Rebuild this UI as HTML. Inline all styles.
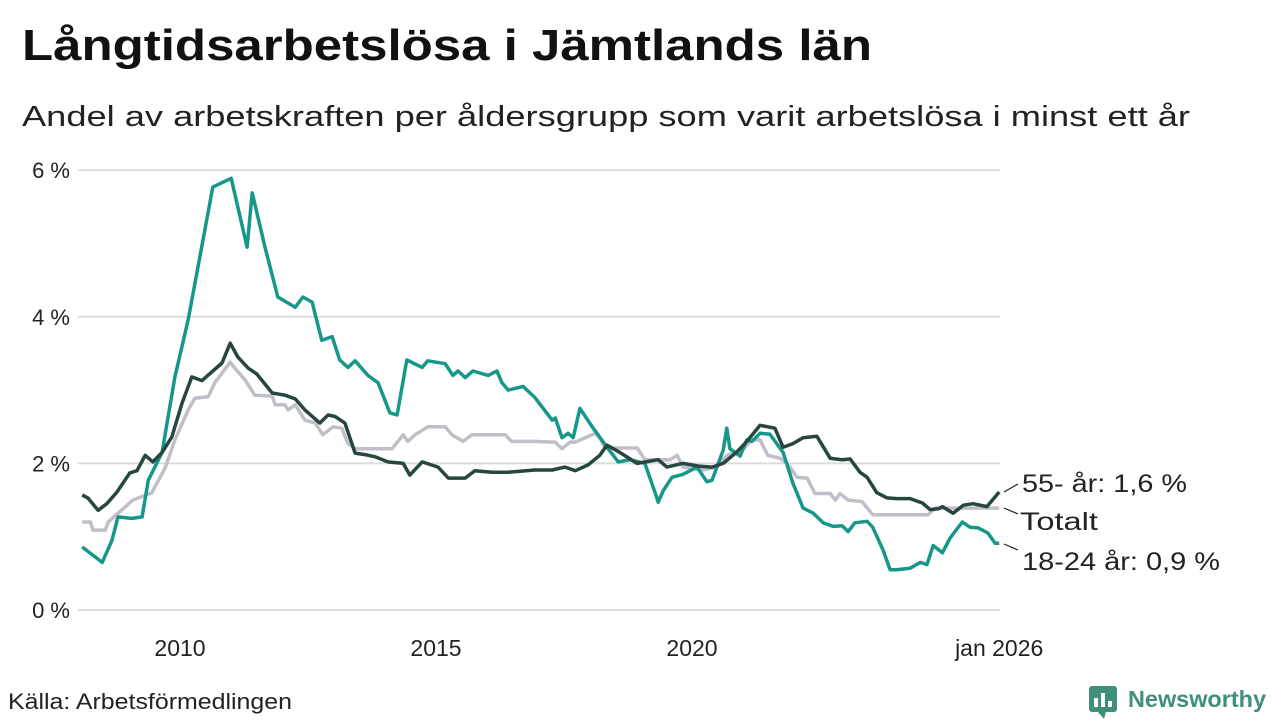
<!DOCTYPE html>
<html><head><meta charset="utf-8"><style>
html,body{margin:0;padding:0;background:#fff;width:1280px;height:720px;overflow:hidden}
svg{display:block;font-family:"Liberation Sans",sans-serif}
</style></head><body>
<svg id="chart" width="1280" height="720" viewBox="0 0 1280 720">
<text x="22" y="60" font-size="44" font-weight="bold" fill="#111" textLength="850" lengthAdjust="spacingAndGlyphs">Långtidsarbetslösa i Jämtlands län</text>
<text x="22" y="126" font-size="29" fill="#222" textLength="1168" lengthAdjust="spacingAndGlyphs">Andel av arbetskraften per åldersgrupp som varit arbetslösa i minst ett år</text>
<g id="grid"></g>
<g id="xaxis"></g>
<g id="series"></g>
<g font-size="25" fill="#222">
<line x1="1004" y1="492" x2="1018" y2="484" stroke="#222" stroke-width="1.2"/>
<text x="1022" y="492" textLength="165" lengthAdjust="spacingAndGlyphs">55- år: 1,6 %</text>
<line x1="1004" y1="508" x2="1018" y2="514" stroke="#222" stroke-width="1.2"/>
<text x="1020" y="530" textLength="78" lengthAdjust="spacingAndGlyphs">Totalt</text>
<line x1="1004" y1="544" x2="1018" y2="550" stroke="#222" stroke-width="1.2"/>
<text x="1022" y="570" textLength="198" lengthAdjust="spacingAndGlyphs">18-24 år: 0,9 %</text>
</g>
<text x="8" y="709" font-size="22" fill="#222" textLength="284" lengthAdjust="spacingAndGlyphs">Källa: Arbetsförmedlingen</text>
<g>
<rect x="1089" y="686" width="28" height="26" rx="3" fill="#3f8f7c"/>
<path d="M1098 712 L1104 719 L1106 712 Z" fill="#3f8f7c"/>
<rect x="1094" y="698" width="4" height="9" fill="#fff"/><rect x="1101" y="693" width="4" height="14" fill="#fff"/><rect x="1108" y="701" width="4" height="6" fill="#fff"/>
<text x="1128" y="707" font-size="23" font-weight="bold" fill="#3f8f7c" textLength="138" lengthAdjust="spacingAndGlyphs">Newsworthy</text>
</g>
</svg>
<script>
const yTicks=[0,2,4,6];
const yTickLabels=["0 %","2 %","4 %","6 %"];
const xTicks=[2010,2015,2020,2026];
const xTickLabels=["2010","2015","2020","jan 2026"];
const youngYears=[2008.09,2008.48,2008.67,2008.79,2009.06,2009.26,2009.38,2009.65,2009.90,2010.16,2010.64,2011.00,2011.31,2011.41,2011.66,2011.91,2012.25,2012.40,2012.58,2012.77,2012.97,2013.12,2013.28,2013.42,2013.67,2013.87,2014.10,2014.24,2014.43,2014.73,2014.84,2015.18,2015.33,2015.43,2015.57,2015.72,2016.02,2016.19,2016.29,2016.41,2016.70,2016.93,2017.27,2017.33,2017.46,2017.58,2017.68,2017.81,2018.05,2018.34,2018.56,2018.79,2019.08,2019.28,2019.34,2019.44,2019.61,2019.82,2020.10,2020.29,2020.39,2020.61,2020.68,2020.74,2020.94,2021.07,2021.17,2021.33,2021.52,2021.78,2021.97,2022.17,2022.37,2022.56,2022.76,2022.93,2023.05,2023.18,2023.42,2023.53,2023.73,2023.87,2024.00,2024.26,2024.46,2024.59,2024.71,2024.89,2025.04,2025.28,2025.43,2025.59,2025.78,2025.92,2026.0];
const youngValues=[0.86,0.65,0.95,1.27,1.25,1.27,1.77,2.15,3.18,3.96,5.77,5.89,4.95,5.69,4.95,4.27,4.13,4.27,4.2,3.68,3.73,3.41,3.31,3.4,3.2,3.1,2.69,2.66,3.41,3.31,3.4,3.36,3.2,3.26,3.17,3.26,3.2,3.26,3.1,3.0,3.05,2.9,2.59,2.62,2.35,2.41,2.35,2.75,2.5,2.22,2.02,2.05,2.0,1.6,1.47,1.63,1.81,1.85,1.95,1.75,1.77,2.18,2.48,2.2,2.1,2.32,2.3,2.41,2.4,2.15,1.73,1.39,1.32,1.19,1.14,1.15,1.07,1.19,1.21,1.13,0.82,0.55,0.55,0.57,0.65,0.62,0.88,0.78,0.98,1.2,1.13,1.12,1.05,0.91,0.91];
const oldYears=[2008.09,2008.20,2008.40,2008.57,2008.77,2009.02,2009.16,2009.32,2009.47,2009.65,2009.84,2010.04,2010.23,2010.43,2010.82,2010.98,2011.13,2011.33,2011.50,2011.80,2012.05,2012.25,2012.44,2012.73,2012.89,2013.03,2013.22,2013.42,2013.61,2013.81,2014.06,2014.36,2014.49,2014.73,2015.04,2015.24,2015.57,2015.76,2016.09,2016.41,2016.93,2017.27,2017.52,2017.72,2017.97,2018.20,2018.34,2018.59,2018.93,2019.34,2019.51,2019.82,2020.16,2020.39,2020.61,2020.88,2021.07,2021.33,2021.62,2021.78,2021.97,2022.17,2022.44,2022.70,2022.93,2023.09,2023.28,2023.42,2023.61,2023.81,2024.00,2024.26,2024.50,2024.65,2024.81,2024.89,2025.10,2025.30,2025.49,2025.76,2026.0];
const oldValues=[1.57,1.53,1.36,1.45,1.61,1.87,1.9,2.11,2.02,2.15,2.36,2.82,3.18,3.13,3.37,3.64,3.45,3.3,3.22,2.96,2.93,2.88,2.73,2.55,2.66,2.64,2.55,2.14,2.12,2.09,2.02,2.0,1.84,2.02,1.95,1.8,1.8,1.9,1.88,1.88,1.91,1.91,1.95,1.9,1.98,2.11,2.25,2.15,2.0,2.05,1.95,2.0,1.96,1.95,2.0,2.16,2.3,2.52,2.48,2.22,2.27,2.35,2.37,2.07,2.05,2.06,1.88,1.81,1.6,1.53,1.52,1.52,1.46,1.37,1.38,1.41,1.32,1.43,1.45,1.41,1.61,1.6];
const totalYears=[2008.09,2008.25,2008.30,2008.54,2008.60,2008.79,2009.08,2009.45,2009.71,2009.90,2010.16,2010.29,2010.55,2010.68,2010.98,2011.07,2011.27,2011.46,2011.80,2011.86,2012.05,2012.11,2012.25,2012.44,2012.64,2012.79,2012.99,2013.16,2013.28,2013.42,2014.14,2014.36,2014.45,2014.59,2014.84,2015.18,2015.31,2015.53,2015.70,2016.35,2016.48,2016.93,2017.27,2017.33,2017.46,2017.62,2017.72,2018.11,2018.20,2018.30,2018.44,2018.93,2019.08,2019.57,2019.71,2019.82,2020.21,2020.49,2020.68,2020.98,2021.17,2021.33,2021.48,2021.72,2021.86,2022.05,2022.25,2022.40,2022.70,2022.80,2022.89,2023.05,2023.32,2023.53,2024.61,2024.75,2026.0];
const totalValues=[1.2,1.2,1.09,1.09,1.2,1.32,1.5,1.6,1.94,2.32,2.73,2.89,2.91,3.1,3.38,3.3,3.14,2.93,2.92,2.8,2.8,2.73,2.8,2.59,2.55,2.39,2.5,2.48,2.27,2.2,2.2,2.39,2.3,2.39,2.5,2.5,2.39,2.3,2.39,2.39,2.3,2.3,2.29,2.29,2.2,2.29,2.29,2.41,2.35,2.21,2.21,2.21,2.05,2.05,2.11,1.95,1.91,1.95,2.11,2.18,2.32,2.32,2.11,2.07,2.0,1.81,1.8,1.59,1.59,1.5,1.59,1.5,1.48,1.3,1.3,1.39,1.39];
const X0=2008,X1=2026,PX0=77.6,PX1=999.2,PY0=610,PY1=170.2;
function xs(v){return PX0+(v-X0)/(X1-X0)*(PX1-PX0);}
function ys(v){return PY0+(v/6)*(PY1-PY0);}
const NS="http://www.w3.org/2000/svg";
const grid=document.getElementById('grid');
yTicks.forEach((t,i)=>{
 const l=document.createElementNS(NS,'line');
 l.setAttribute('x1',78);l.setAttribute('x2',1000);l.setAttribute('y1',ys(t));l.setAttribute('y2',ys(t));
 l.setAttribute('stroke','#dcdcdc');l.setAttribute('stroke-width','2');
 
 
 grid.appendChild(l);
 const tx=document.createElementNS(NS,'text');
 tx.setAttribute('x',70);tx.setAttribute('y',ys(t)+8);tx.setAttribute('text-anchor','end');
 tx.setAttribute('font-size','22');tx.setAttribute('fill','#222');tx.textContent=yTickLabels[i];
 
 
 grid.appendChild(tx);
});
const xa=document.getElementById('xaxis');
xTicks.forEach((t,i)=>{
 const tx=document.createElementNS(NS,'text');
 tx.setAttribute('x',xs(t));tx.setAttribute('y',656);tx.setAttribute('text-anchor','middle');
 tx.setAttribute('font-size','23');tx.setAttribute('fill','#222');tx.textContent=xTickLabels[i];
 
 
 xa.appendChild(tx);
});
const ser=document.getElementById('series');
function draw(yrs,vals,color,name){
 const p=document.createElementNS(NS,'polyline');
 p.setAttribute('points',yrs.map((y,i)=>xs(y).toFixed(1)+','+ys(vals[i]).toFixed(1)).join(' '));
 p.setAttribute('fill','none');p.setAttribute('stroke',color);p.setAttribute('stroke-width','3.5');p.setAttribute('stroke-linejoin','round');
 
 
 ser.appendChild(p);
}
draw(totalYears,totalValues,'#c2bec9','line-totalt');
draw(youngYears,youngValues,'#17978a','line-18-24');
draw(oldYears,oldValues,'#27463f','line-55-plus');
</script>
</body></html>
